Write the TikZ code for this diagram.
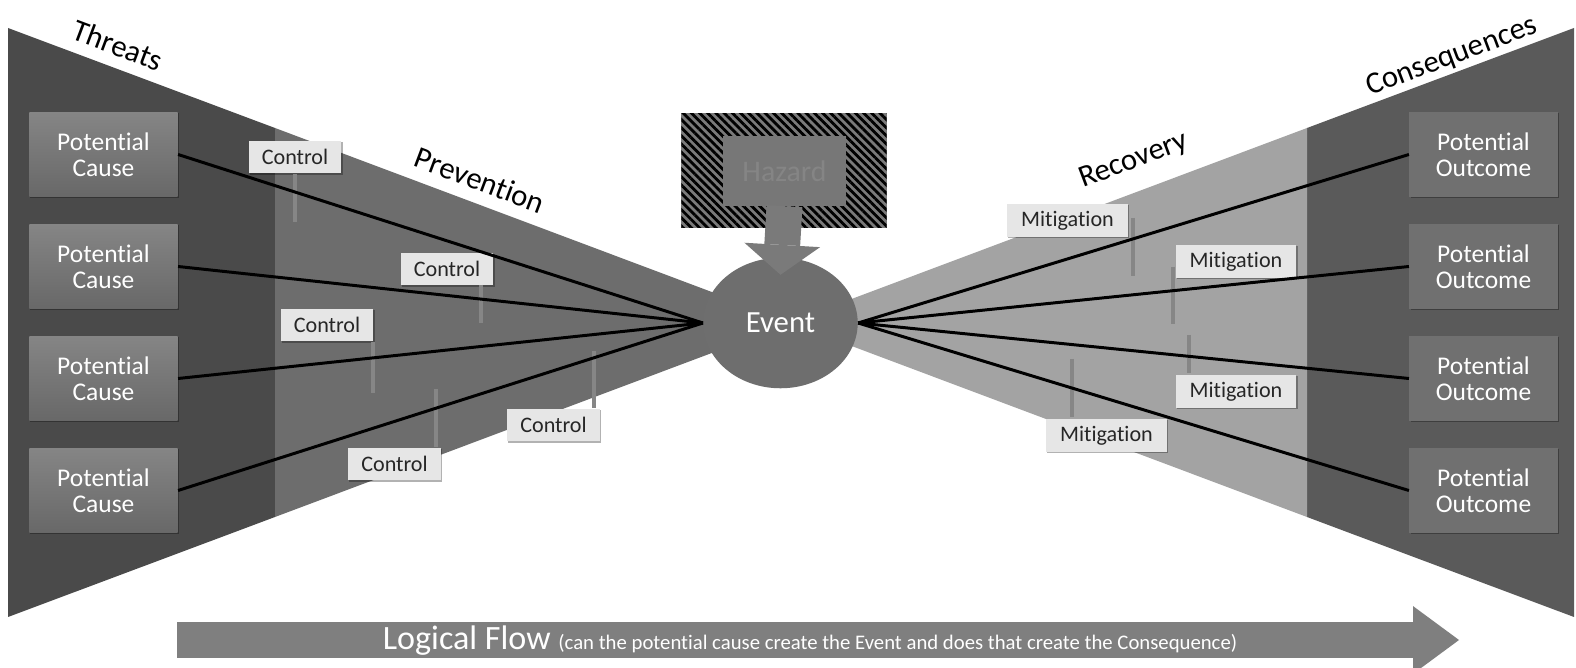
\documentclass[tikz,border=0pt]{standalone}
\usepackage{fontspec}
\setmainfont{Carlito}[Ligatures=NoCommon]
\usetikzlibrary{shapes.geometric,patterns.meta,arrows.meta,shadows}
\definecolor{threatc}{HTML}{4A4A4A}
\definecolor{prevc}{HTML}{6D6D6D}
\definecolor{recovc}{HTML}{A3A3A3}
\definecolor{consc}{HTML}{5A5A5A}
\definecolor{boxtop}{HTML}{858585}
\definecolor{boxbot}{HTML}{686868}
\definecolor{outc}{HTML}{707070}
\definecolor{labc}{HTML}{E6E6E6}
\definecolor{tickc}{HTML}{868686}
\definecolor{evc}{HTML}{6E6E6E}
\definecolor{hazc}{HTML}{7A7A7A}
\definecolor{hazin}{HTML}{777777}
\definecolor{haztxt}{HTML}{858585}
\definecolor{flowc}{HTML}{7F7F7F}
\begin{document}
\begin{tikzpicture}[x=0.02cm,y=-0.02cm,
  softshadow/.style={drop shadow={shadow xshift=0.7pt,shadow yshift=-0.7pt,opacity=0.3,fill=black}},
  pbox/.style={rectangle,inner sep=0pt,minimum width=84.5pt,minimum height=48.2pt,text=white,align=center,font=\fontsize{14.5}{14.7}\selectfont,softshadow},
  cause/.style={pbox,top color=boxtop,bottom color=boxbot},
  outcome/.style={pbox,fill=outc},
  ctl/.style={rectangle,fill=labc,inner sep=0pt,minimum width=52.7pt,minimum height=18.7pt,text=black!85,font=\fontsize{12.6}{14}\selectfont,softshadow},
  mit/.style={ctl,minimum width=68.6pt},
  tickbar/.style={draw=tickc,line width=2.3pt},
  link/.style={draw=black,line width=1.7pt},
  zonelabel/.style={font=\fontsize{17.5}{20}\selectfont,text=black,inner sep=0pt}
]
\useasboundingbox (0,0) rectangle (1576,668);
\clip (0,0) rectangle (1576,668);
\fill[white] (0,0) rectangle (1576,668);

% zones
\fill[threatc] (8,28) -- (275,128) -- (275,517) -- (8,617) -- cycle;
\fill[prevc] (275,128) -- (793,322.5) -- (275,517) -- cycle;
\fill[consc] (1574,28) -- (1307,128) -- (1307,517) -- (1574,617) -- cycle;
\fill[recovc] (1307,128) -- (789,322.5) -- (1307,517) -- cycle;

% zone labels
\node[zonelabel,rotate=-20.6] (lthreat) at (118,45) {Threats};
\node[zonelabel,rotate=-20.6] (lprev) at (480,180) {Prevention};
\node[zonelabel,rotate=20.6] (lrec) at (1134,161) {Recovery};
\node[zonelabel,rotate=20.6] (lcons) at (1452,57) {Consequences};

% boxes
\node[cause] (c1) at (103.5,154.5) {Potential\\Cause};
\node[cause] (c2) at (103.5,266.5) {Potential\\Cause};
\node[cause] (c3) at (103.5,378.5) {Potential\\Cause};
\node[cause] (c4) at (103.5,490.5) {Potential\\Cause};
\node[outcome] (o1) at (1483.5,154.5) {Potential\\Outcome};
\node[outcome] (o2) at (1483.5,266.5) {Potential\\Outcome};
\node[outcome] (o3) at (1483.5,378.5) {Potential\\Outcome};
\node[outcome] (o4) at (1483.5,490.5) {Potential\\Outcome};

% event
\node[ellipse,fill=evc,inner sep=0pt,minimum width=87.9pt,minimum height=74.3pt,text=white,font=\fontsize{17.5}{20}\selectfont] (ev) at (780.5,323) {Event};

% control / mitigation labels
\node[ctl] (k1) at (295,157) {Control};
\node[ctl] (k2) at (447,269) {Control};
\node[ctl] (k3) at (327,325) {Control};
\node[ctl] (k4) at (394.5,464) {Control};
\node[ctl] (k5) at (553.5,425) {Control};
\node[mit] (m1) at (1067.5,220.5) {Mitigation};
\node[mit] (m2) at (1236,261.5) {Mitigation};
\node[mit] (m3) at (1236,391.5) {Mitigation};
\node[mit] (m4) at (1106.5,435.5) {Mitigation};

% ticks
\draw[tickbar] (295,174) -- (295,222);
\draw[tickbar] (481,285) -- (481,323);
\draw[tickbar] (373,342) -- (373,393);
\draw[tickbar] (436,389) -- (436,447);
\draw[tickbar] (594,351) -- (594,408);
\draw[tickbar] (1133,218) -- (1133,276);
\draw[tickbar] (1173,267) -- (1173,324);
\draw[tickbar] (1189,335) -- (1189,373);
\draw[tickbar] (1072,359) -- (1072,417);

% links
\foreach \c in {c1,c2,c3,c4} \draw[link] (\c.east) -- (ev.west);
\foreach \o in {o1,o2,o3,o4} \draw[link] (ev.east) -- (\o.west);

% hazard
\node[rectangle,inner sep=0pt,minimum width=116.8pt,minimum height=65.2pt,fill=hazc,
  postaction={pattern={Lines[angle=-45,distance=3.3pt,line width=1.6pt]},pattern color=black}] (hzo) at (784,170.5) {};
\node[rectangle,inner sep=0pt,minimum width=69.7pt,minimum height=39.7pt,fill=hazin,text=haztxt,font=\fontsize{17}{20}\selectfont] (hz) at (784.5,171) {Hazard};
\draw[hazc,line width=20.4pt,-{Triangle[width=43.1pt,length=17pt,line width=0pt]}] (hz.south) -- ([yshift=-9.9pt]ev.north);

% logical flow
\coordinate (fs) at (177,640);
\coordinate (fe) at (1459,640);
\draw[flowc,line width=20.4pt,-{Triangle[width=38.5pt,length=26.1pt,line width=0pt]}] (fs) -- (fe);
\node[anchor=base,text=white,inner sep=0pt] (lf) at (810,650) {\fontsize{19.4}{22}\selectfont Logical Flow \fontsize{11.8}{13}\selectfont(can the potential cause create the Event and does that create the Consequence)};
\end{tikzpicture}
\end{document}
